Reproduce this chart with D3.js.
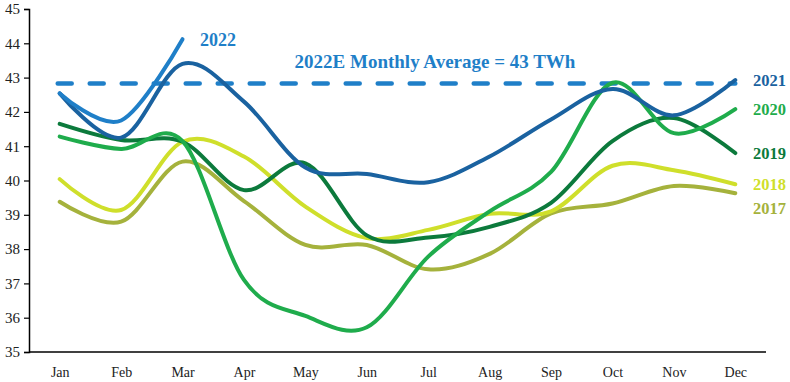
<!DOCTYPE html>
<html>
<head>
<meta charset="utf-8">
<script src="https://cdn.jsdelivr.net/npm/d3@7"></script>
<style>
  body { margin: 0; background: #fff; }
  text { font-family: "Liberation Serif", "DejaVu Serif", serif; }
</style>
</head>
<body>
<script>
//Width and height
var w = 790;
var h = 382;

//Months and series (TWh per month)
var months = ["Jan","Feb","Mar","Apr","May","Jun","Jul","Aug","Sep","Oct","Nov","Dec"];
var yTicks = [35,36,37,38,39,40,41,42,43,44,45];

var y2017 = [39.38,38.80,40.55,39.40,38.12,38.12,37.41,37.86,39.04,39.33,39.84,39.63];
var y2018 = [40.04,39.14,41.13,40.70,39.24,38.32,38.56,39.03,39.10,40.43,40.30,39.89];
var y2019 = [41.65,41.18,41.13,39.72,40.50,38.40,38.34,38.65,39.35,41.15,41.82,40.80];
var y2020 = [41.28,40.92,41.15,37.10,36.05,35.72,37.78,39.10,40.25,42.85,41.38,42.08];
var y2021 = [42.54,41.25,43.40,42.30,40.38,40.19,39.95,40.70,41.78,42.67,41.90,42.93];
var y2022 = [42.54,41.75,44.12];

var avgValue = 42.83;
var avgLabel = "2022E Monthly Average = 43 TWh";

var series = [
  {name: "2017", values: y2017, color: "#a5b23c"},
  {name: "2018", values: y2018, color: "#cfdf2b"},
  {name: "2019", values: y2019, color: "#0c7a3c"},
  {name: "2020", values: y2020, color: "#1fac4c"},
  {name: "2021", values: y2021, color: "#1a62a0"},
  {name: "2022", values: y2022, color: "#1f7fc8"}
];

//Scales
var x = d3.scalePoint().domain(months).range([29, 766]).padding(0.5);
var y = d3.scaleLinear().domain([35, 45]).range([352, 9]);

//Create SVG element
var svg = d3.select("body")
            .append("svg")
            .attr("width", w)
            .attr("height", h);

//Line generator, smoothed like the original
var line = d3.line()
             .x(function(d, i) { return x(months[i]); })
             .y(function(d) { return y(d); })
             .curve(d3.curveCatmullRom.alpha(0));

//Average dashed line
svg.append("line")
   .attr("x1", x("Jan") - 2)
   .attr("x2", x("Dec"))
   .attr("y1", y(avgValue))
   .attr("y2", y(avgValue))
   .attr("stroke", "#1f7fc8")
   .attr("stroke-width", 4.5)
   .attr("stroke-linecap", "round")
   .attr("stroke-dasharray", "14 18");

svg.append("text")
   .attr("x", 435)
   .attr("y", 68)
   .attr("text-anchor", "middle")
   .attr("font-size", 19)
   .attr("font-weight", "bold")
   .attr("fill", "#1f7fc8")
   .text(avgLabel);

//Series lines
svg.selectAll("path.series")
   .data(series)
   .enter()
   .append("path")
   .attr("class", "series")
   .attr("d", function(d) { return line(d.values); })
   .attr("fill", "none")
   .attr("stroke", function(d) { return d.color; })
   .attr("stroke-width", 4)
   .attr("stroke-linecap", "round");

//Series labels
var labelPos = {
  "2017": [753, 208],
  "2018": [753, 184],
  "2019": [753, 153],
  "2020": [753, 109],
  "2021": [753, 80],
  "2022": [200, 40]
};
svg.selectAll("text.lab")
   .data(series)
   .enter()
   .append("text")
   .attr("class", "lab")
   .attr("x", function(d) { return labelPos[d.name][0]; })
   .attr("y", function(d) { return labelPos[d.name][1]; })
   .attr("dy", "0.35em")
   .attr("font-size", function(d) { return d.name == "2022" ? 18 : 16.5; })
   .attr("font-weight", "bold")
   .attr("fill", function(d) { return d.color; })
   .text(function(d) { return d.name; });

//Y axis
var yAxis = d3.axisLeft(y).tickValues(yTicks).tickSize(5).tickPadding(4);
var gy = svg.append("g")
   .attr("transform", "translate(29,0)")
   .call(yAxis);
gy.select(".domain").attr("stroke", "#000").attr("stroke-width", 1.5);
gy.selectAll(".tick line").attr("stroke", "#000").attr("stroke-width", 1.2);
gy.selectAll(".tick text")
  .attr("font-family", "Liberation Serif")
  .attr("font-size", 15)
  .attr("fill", "#222");

//X axis
var xAxis = d3.axisBottom(x).tickSize(0).tickPadding(15);
var gx = svg.append("g")
   .attr("transform", "translate(0,352)")
   .call(xAxis);
gx.select(".domain").attr("d", "M29,0H766").attr("stroke", "#000").attr("stroke-width", 1.5);
gx.selectAll(".tick text")
  .attr("font-family", "Liberation Serif")
  .attr("font-size", 14)
  .attr("fill", "#222");
</script>
</body>
</html>
